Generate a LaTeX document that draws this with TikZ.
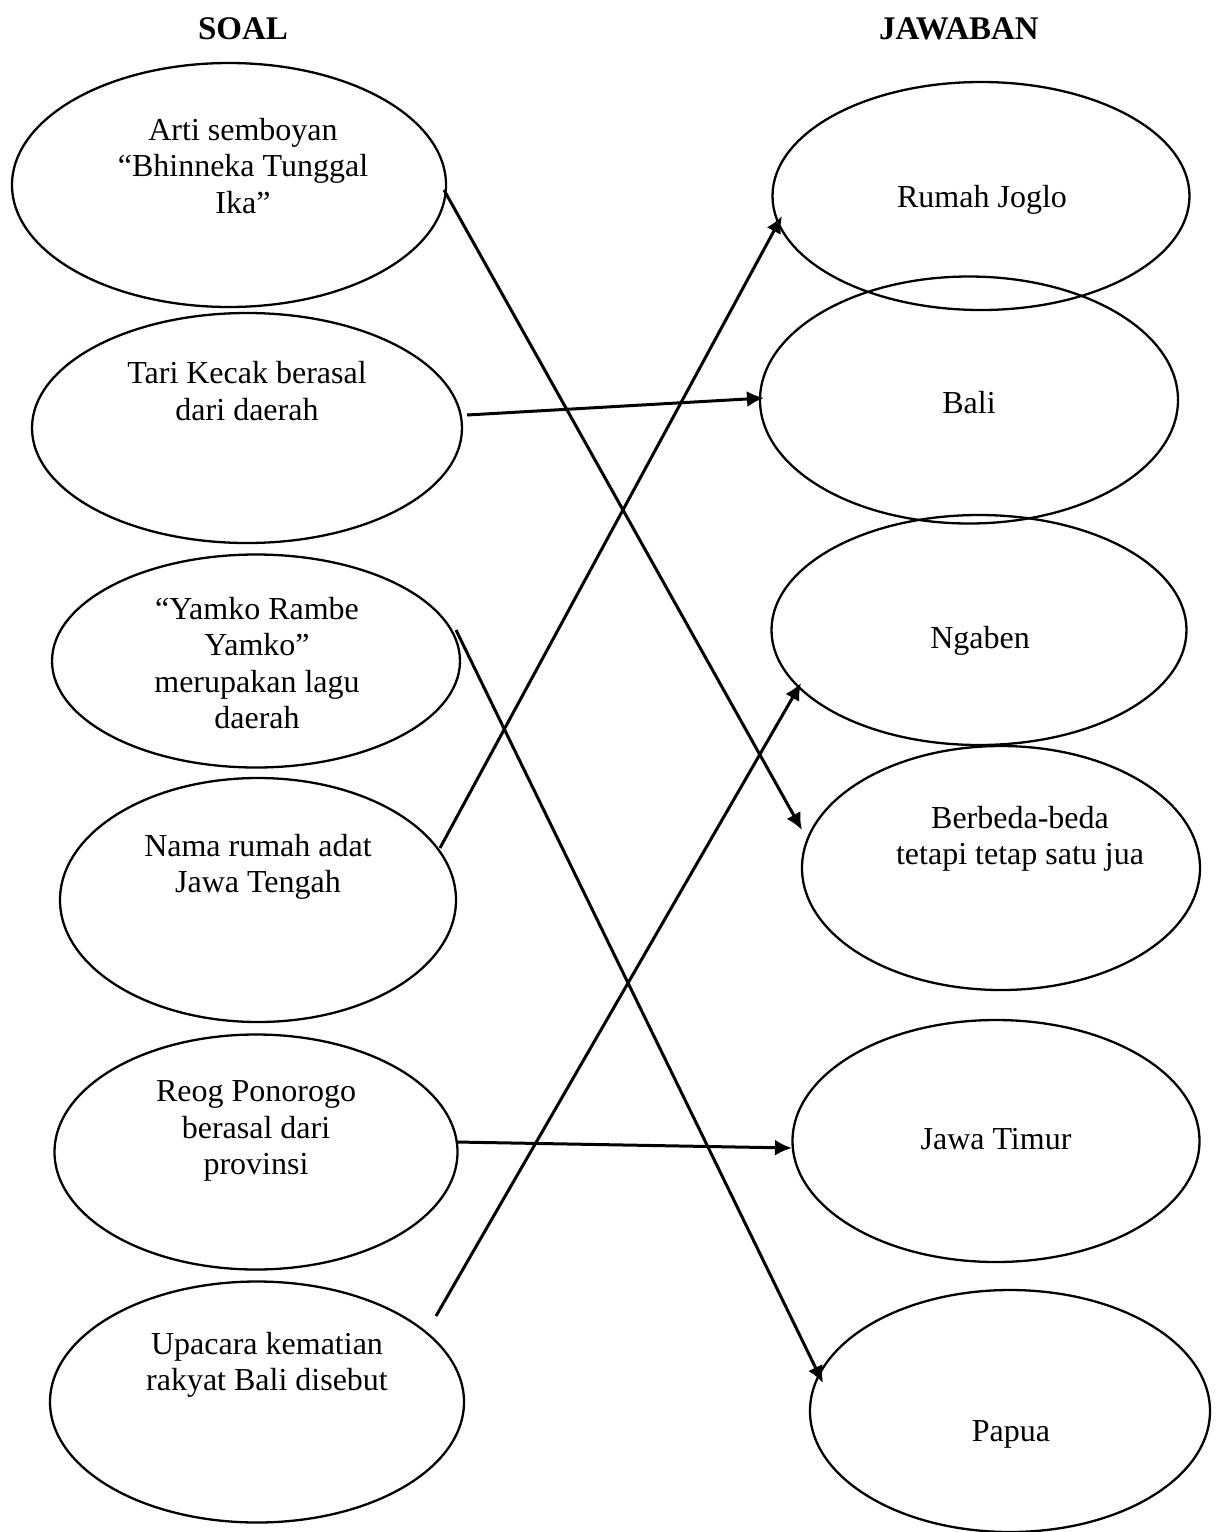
\documentclass[tikz,border=0pt]{standalone}
\usepackage{fontspec}
\setmainfont{Liberation Serif}
\usetikzlibrary{arrows.meta,shapes.geometric}
\begin{document}
\begin{tikzpicture}[x=1pt,y=-1pt,
  oval/.style={draw,line width=2.3pt,ellipse,inner sep=0pt},
  txt/.style={align=center,font=\fontsize{32}{36.5}\selectfont},
  hdr/.style={font=\fontsize{33}{38}\selectfont\bfseries},
  conn/.style={line width=3pt,-{Latex[length=17pt,width=16pt]}}]
\useasboundingbox (0,0) rectangle (1216,1532);
% headers
\node[hdr] (soal) at (243,29) {SOAL};
\node[hdr] (jawab) at (959,29) {JAWABAN};
% left ellipses
\node[oval,minimum width=434pt,minimum height=244pt] (q1) at (229,185) {};
\node[oval,minimum width=430pt,minimum height=230pt] (q2) at (247,428) {};
\node[oval,minimum width=408pt,minimum height=213pt] (q3) at (256,661) {};
\node[oval,minimum width=396pt,minimum height=244pt] (q4) at (258,900) {};
\node[oval,minimum width=403pt,minimum height=235pt] (q5) at (256,1152) {};
\node[oval,minimum width=414pt,minimum height=241pt] (q6) at (257,1402) {};
% right ellipses
\node[oval,minimum width=417pt,minimum height=228pt] (a1) at (981,196) {};
\node[oval,minimum width=418pt,minimum height=247pt] (a2) at (969,400) {};
\node[oval,minimum width=415pt,minimum height=230pt] (a3) at (979,630) {};
\node[oval,minimum width=398pt,minimum height=244pt] (a4) at (1001,868) {};
\node[oval,minimum width=407pt,minimum height=242pt] (a5) at (996,1141) {};
\node[oval,minimum width=400pt,minimum height=242pt] (a6) at (1010,1411) {};
% texts
\node[txt] (t1) at (243,166) {Arti semboyan\\``Bhinneka Tunggal\\Ika''};
\node[txt] (t2) at (247,391) {Tari Kecak berasal\\dari daerah};
\node[txt] (t3) at (257,663) {``Yamko Rambe\\Yamko''\\merupakan lagu\\daerah};
\node[txt] (t4) at (258,867) {Nama rumah adat\\Jawa Tengah};
\node[txt] (t5) at (256,1131) {Reog Ponorogo\\berasal dari\\provinsi};
\node[txt] (t6) at (267,1365) {Upacara kematian\\rakyat Bali disebut};
\node[txt] (r1) at (982,200) {Rumah Joglo};
\node[txt] (r2) at (969,403) {Bali};
\node[txt] (r3) at (980,641) {Ngaben};
\node[txt] (r4) at (1020,839) {Berbeda-beda\\tetapi tetap satu jua};
\node[txt] (r5) at (996,1139) {Jawa Timur};
\node[txt] (r6) at (1011,1434) {Papua};
% connector end points
\coordinate (s1) at (444,190);
\coordinate (e1) at (802,830);
\coordinate (s2) at (467,415);
\coordinate (e2) at (764,398);
\coordinate (s3) at (456,630);
\coordinate (e3) at (823,1383);
\coordinate (s4) at (440,848);
\coordinate (e4) at (782,216);
\coordinate (s5) at (456,1142);
\coordinate (e5) at (792,1148);
\coordinate (s6) at (436,1316);
\coordinate (e6) at (801,683);
\draw[conn] (s1) -- (e1);
\draw[conn] (s2) -- (e2);
\draw[conn] (s3) -- (e3);
\draw[conn] (s4) -- (e4);
\draw[conn] (s5) -- (e5);
\draw[conn] (s6) -- (e6);
\end{tikzpicture}
\end{document}
